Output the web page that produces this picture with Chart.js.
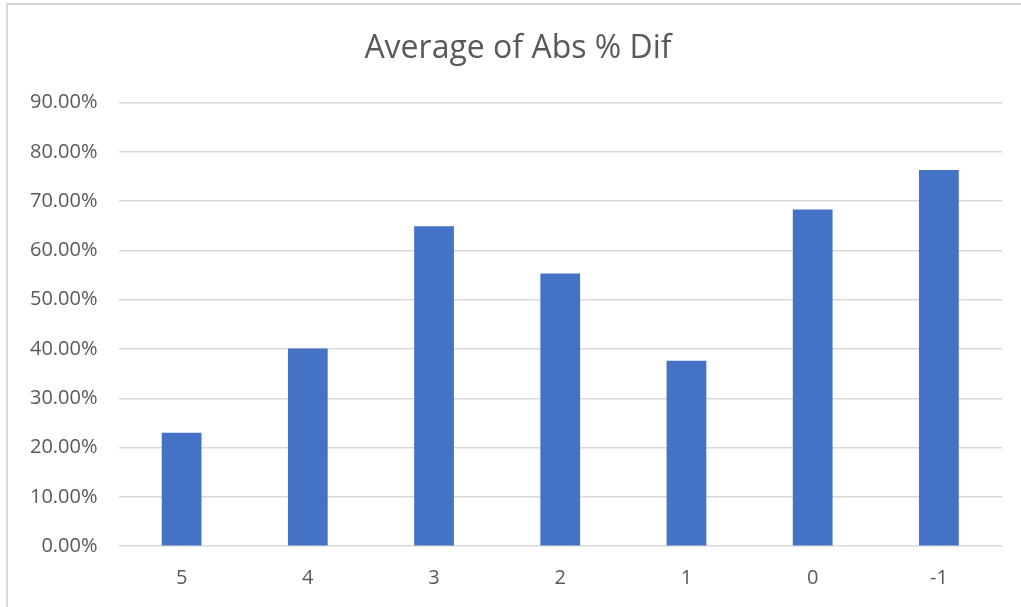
<!DOCTYPE html>
<html>
<head>
<meta charset="utf-8">
<script src="https://cdn.jsdelivr.net/npm/chart.js@4.4.1/dist/chart.umd.min.js"></script>
<style>
  html, body { margin: 0; padding: 0; background: #ffffff; }
  #wrap { position: relative; width: 1021px; height: 607px; }
</style>
</head>
<body>
<div id="wrap"><canvas id="c" width="1021" height="607"></canvas></div>
<script>
const categories = ["5", "4", "3", "2", "1", "0", "-1"];
const avgAbsPctDif = [23.0, 40.1, 64.9, 55.3, 37.6, 68.3, 76.3];
const chartTitle = "Average of Abs % Dif";
const yMin = 0, yMax = 90, yStep = 10;

const frame = {
  id: 'frame',
  afterLayout(chart) {
    if (chart.titleBlock) {
      chart.titleBlock.left = 34;
      chart.titleBlock.right = 1002;
    }
  },
  beforeDraw(chart) {
    const ctx = chart.ctx;
    ctx.save();
    ctx.fillStyle = '#ffffff';
    ctx.fillRect(0, 0, chart.width, chart.height);
    ctx.fillStyle = '#d9d9d9';
    ctx.fillRect(6, 3, chart.width - 6, 2);
    ctx.fillRect(6, 3, 2, chart.height - 3);
    ctx.restore();
  }
};

new Chart(document.getElementById('c'), {
  type: 'bar',
  data: {
    labels: categories,
    datasets: [{
      label: chartTitle,
      data: avgAbsPctDif,
      backgroundColor: '#4472c4',
      borderWidth: 0,
      categoryPercentage: 1.0,
      barPercentage: 0.315
    }]
  },
  options: {
    responsive: false,
    animation: false,
    layout: { padding: { left: 0, right: 19, top: 0, bottom: 0 } },
    plugins: {
      legend: { display: false },
      tooltip: { enabled: false },
      title: {
        display: true,
        text: chartTitle,
        color: '#595959',
        font: { family: '"Open Sans"', size: 32, weight: 'normal', lineHeight: 1.2 },
        padding: { top: 30, bottom: 34.1 }
      }
    },
    scales: {
      x: {
        grid: { display: false, drawTicks: false },
        border: { display: false },
        ticks: {
          color: '#595959',
          font: { family: '"Open Sans"', size: 20 },
          padding: 20
        },
        afterFit(scale) { scale.height = 60.8; }
      },
      y: {
        min: yMin,
        max: yMax,
        grid: { color: '#d9d9d9', lineWidth: 1.5, drawTicks: false },
        border: { display: false },
        ticks: {
          stepSize: yStep,
          color: '#595959',
          font: { family: '"Open Sans"', size: 20 },
          padding: 21,
          callback: v => v.toFixed(2) + '%'
        },
        afterFit(scale) { scale.width = 118.5; }
      }
    }
  },
  plugins: [frame]
});
</script>
</body>
</html>
